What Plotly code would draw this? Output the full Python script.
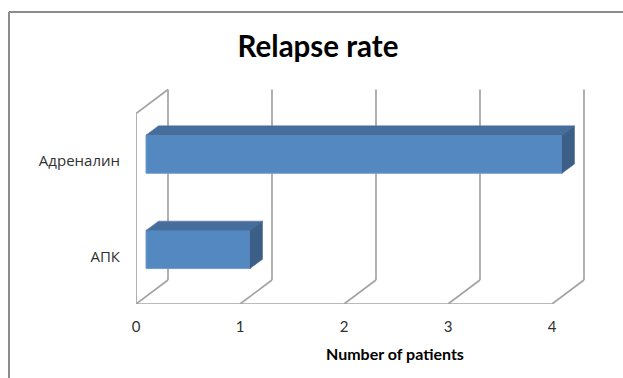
import plotly.graph_objects as go

categories = ["АПК", "Адреналин"]
values = [1, 4]
x_ticks = [0, 1, 2, 3, 4]
y_index = [0, 1]

W, H = 623, 378
L, R, T, B = 136, 23, 80, 74
ppx = 104.0
ppy = 95.3
x_max = (W - R - L) / ppx
floor = -0.572
y_top = floor + (H - B - T) / ppy

dx, dy = 32 / ppx, 24 / ppy      # depth of the walls
wall_h = 190.5 / ppy             # wall height
bx0 = 10 / ppx                   # bar offset in depth
bdx, bdy = 12.5 / ppx, 9.3 / ppy # bar depth
bar_h = 0.4
label_shift = 7 / ppy            # category labels sit slightly below the front face centre

GRID = "#A3A3A3"
FRONT = "#5488C0"
TOP = "#466E9C"
SIDE = "#3C5F88"


def seg(x0, y0, x1, y1):
    return dict(type="line", xref="x", yref="y", x0=x0, y0=y0, x1=x1, y1=y1,
                layer="below", line=dict(color=GRID, width=1.7))


shapes = [seg(0, floor, x_ticks[-1], floor),
          seg(0, floor, 0, floor + wall_h),
          seg(0, floor + wall_h, dx, floor + dy + wall_h)]
for t in x_ticks:
    shapes.append(seg(t, floor, t + dx, floor + dy))
    shapes.append(seg(t + dx, floor + dy, t + dx, floor + dy + wall_h))

# outer chart border: top and left edge only run along the picture
pw = W - L - R
ph = H - T - B
for x0, y0, x1, y1 in [(9, 12, 623, 12), (9, 12, 9, 378)]:
    shapes.append(dict(type="line", xref="paper", yref="paper",
                       x0=(x0 - L) / pw, x1=(x1 - L) / pw,
                       y0=1 - (y0 - T) / ph, y1=1 - (y1 - T) / ph,
                       line=dict(color="#8C8C8C", width=2)))

fig = go.Figure()
fig.add_trace(go.Bar(
    orientation="h", y=y_index, x=values, base=[bx0] * len(values), width=bar_h,
    marker=dict(color=FRONT, line=dict(color="#6E9BD0", width=1)),
    showlegend=False, hoverinfo="skip",
))
for yi, v in zip(y_index, values):
    top = yi + bar_h / 2
    bot = yi - bar_h / 2
    xe = bx0 + v
    fig.add_trace(go.Scatter(
        x=[bx0, xe, xe + bdx, bx0 + bdx, bx0],
        y=[top, top, top + bdy, top + bdy, top],
        mode="lines", fill="toself", fillcolor=TOP, line=dict(color=TOP, width=0.5),
        showlegend=False, hoverinfo="skip"))
    fig.add_trace(go.Scatter(
        x=[xe, xe + bdx, xe + bdx, xe, xe],
        y=[top, top + bdy, bot + bdy, bot, top],
        mode="lines", fill="toself", fillcolor=SIDE, line=dict(color=SIDE, width=0.5),
        showlegend=False, hoverinfo="skip"))

fig.update_layout(
    width=W, height=H, autosize=False,
    margin=dict(l=L, r=R, t=T, b=B, pad=0),
    paper_bgcolor="white", plot_bgcolor="white",
    shapes=shapes,
    title=dict(text="<b>Relapse rate</b>", x=318 / W, xanchor="center", y=1 - 47 / H, yanchor="middle",
               font=dict(family="Lato", size=29.5, color="#000000")),
    xaxis=dict(range=[0, x_max], tickvals=x_ticks, ticktext=[str(t) for t in x_ticks],
               showgrid=False, zeroline=False, showline=False,
               ticks="outside", ticklen=9, tickcolor="rgba(0,0,0,0)",
               tickfont=dict(family="Lato", size=15, color="#303030")),
    yaxis=dict(range=[floor, y_top], tickvals=[i - label_shift for i in y_index], ticktext=categories,
               showgrid=False, zeroline=False, showline=False,
               ticks="outside", ticklen=12, tickcolor="rgba(0,0,0,0)",
               tickfont=dict(family="Open Sans", size=15, color="#303030")),
    annotations=[dict(text="<b>Number of patients</b>", xref="x", yref="paper",
                      x=(395 - L) / ppx, y=1 - (353.5 - T) / ph, xanchor="center", yanchor="middle",
                      showarrow=False, font=dict(family="Lato", size=16, color="#000000"))],
)
fig.write_html("out.html", post_script="document.body.style.margin='0';",
               config={"displayModeBar": False})
